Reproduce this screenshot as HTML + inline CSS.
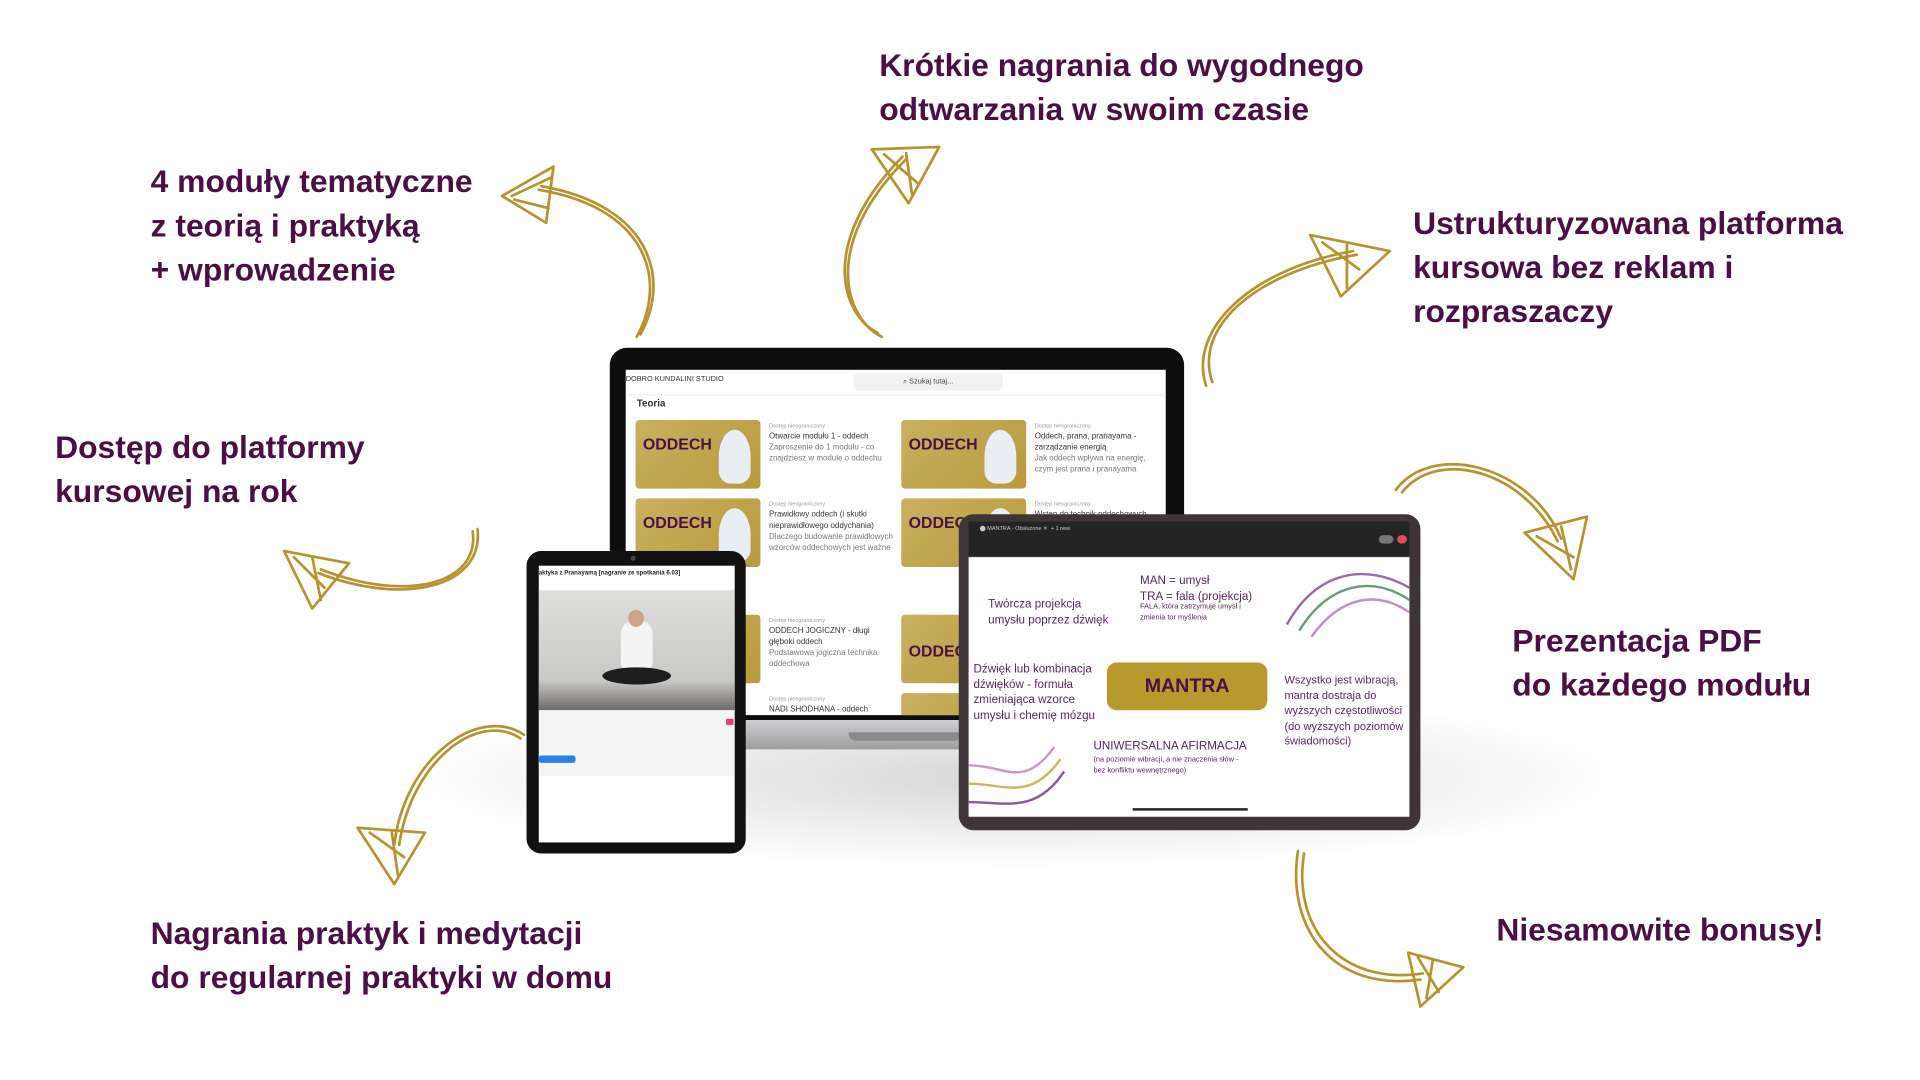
<!DOCTYPE html>
<html><head><meta charset="utf-8">
<style>
html,body{margin:0;padding:0;width:1920px;height:1080px;overflow:hidden;background:#fff;}
#w{position:absolute;left:0;top:0;width:1570px;height:882px;transform:scale(1.2245);transform-origin:0 0;font-family:"Liberation Sans",sans-serif;}
.t{position:absolute;color:#4b0f45;font-weight:bold;font-size:26px;line-height:36px;white-space:nowrap;}
.abs{position:absolute;}
.card{position:absolute;width:102px;height:56px;background:linear-gradient(135deg,#c9b060,#b89a3e);border-radius:3px;overflow:hidden;}
.card b{position:absolute;left:6px;top:12px;font-size:13px;color:#4b0f45;}
.card i{position:absolute;right:8px;top:8px;width:26px;height:44px;background:#e8eef2;border-radius:50% 50% 10px 10px;}
.ct{position:absolute;font-size:6.5px;color:#333;line-height:9px;width:104px;}
.ct s{text-decoration:none;color:#999;font-size:4.5px;display:block;}
.ct em{font-style:normal;color:#777;}
</style></head><body><div id="w">
<div class="abs" style="left:330px;top:560px;width:1000px;height:150px;border-radius:50%;background:radial-gradient(ellipse at center,rgba(0,0,0,0.16),rgba(0,0,0,0) 70%);"></div>

<div class="t" style="left:123px;top:130px;">4 moduły tematyczne<br>z teorią i praktyką<br>+ wprowadzenie</div>
<div class="t" style="left:718px;top:35px;">Krótkie nagrania do wygodnego<br>odtwarzania w swoim czasie</div>
<div class="t" style="left:1154px;top:164px;">Ustrukturyzowana platforma<br>kursowa bez reklam i<br>rozpraszaczy</div>
<div class="t" style="left:45px;top:347px;">Dostęp do platformy<br>kursowej na rok</div>
<div class="t" style="left:1235px;top:505px;">Prezentacja PDF<br>do każdego modułu</div>
<div class="t" style="left:123px;top:744px;">Nagrania praktyk i medytacji<br>do regularnej praktyki w domu</div>
<div class="t" style="left:1222px;top:741px;">Niesamowite bonusy!</div>

<svg class="abs" style="left:0;top:0" width="1560" height="878" fill="none" stroke="#b8922e" stroke-width="2.2" stroke-linecap="round" stroke-linejoin="round">
<path d="M520 275 C545 230 530 170 440 155"/><path d="M523 273 C548 228 532 168 442 152"/>
<path d="M410 160 L452 136 L446 182 Z M418 160 L450 145 M420 163 L448 170"/>
<path d="M720 275 C690 260 670 200 740 130"/><path d="M717 272 C687 257 668 198 737 128"/>
<path d="M712 122 L767 120 L742 166 Z M722 126 L750 150 M740 125 L745 160"/>
<path d="M985 315 C970 270 1020 220 1105 205"/><path d="M990 312 C975 268 1023 223 1108 208"/>
<path d="M1070 192 L1135 205 L1095 242 Z M1080 198 L1110 220 M1100 200 L1100 235"/>
<path d="M390 432 C395 480 330 495 260 468"/><path d="M386 434 C392 478 330 492 262 465"/>
<path d="M232 450 L285 460 L255 497 Z M240 455 L265 480 M255 455 L262 490"/>
<path d="M1140 400 C1170 360 1250 380 1275 440"/><path d="M1145 402 C1175 365 1245 385 1272 442"/>
<path d="M1245 435 L1296 422 L1285 473 Z M1255 438 L1285 455 M1275 430 L1283 465"/>
<path d="M428 600 C390 575 330 620 322 690"/><path d="M425 603 C390 580 336 622 326 690"/>
<path d="M292 676 L347 680 L322 722 Z M302 680 L330 700 M320 680 L325 715"/>
<path d="M1060 695 C1050 760 1090 810 1160 800"/><path d="M1065 697 C1055 758 1095 805 1162 795"/>
<path d="M1150 778 L1195 790 L1160 822 Z M1158 782 L1175 810 M1170 785 L1165 815"/>
</svg>

<!-- laptop -->
<div class="abs" style="left:498px;top:284px;width:469px;height:316px;background:#0d0d0d;border-radius:14px 14px 0 0;"></div>
<div class="abs" style="left:492px;top:588px;width:485px;height:24px;background:linear-gradient(#cfcfd1,#9d9d9f);border-radius:0 0 14px 14px;"></div>
<div class="abs" style="left:693px;top:598px;width:92px;height:7px;background:#8a8a8c;border-radius:0 0 6px 6px;"></div>
<div class="abs" style="left:511px;top:302px;width:441px;height:282px;background:#fff;overflow:hidden;">
 <div class="abs" style="left:0;top:5px;font-size:6px;color:#333;">DOBRO KUNDALINI STUDIO</div>
 <div class="abs" style="left:186px;top:3px;width:122px;height:14px;background:#f1f1f1;border-radius:4px;font-size:6px;color:#444;text-align:center;line-height:14px;">⌕ Szukaj tutaj...</div>
 <div class="abs" style="left:0;top:20px;width:441px;height:1px;background:#eee;"></div>
 <div class="abs" style="left:9px;top:23px;font-size:8px;font-weight:bold;color:#333;">Teoria</div>
 <div class="card" style="left:8px;top:41px;"><b>ODDECH</b><i></i></div>
 <div class="ct" style="left:117px;top:41px;"><s>Dostęp nieograniczony</s>Otwarcie modułu 1 - oddech<br><em>Zaproszenie do 1 modułu - co znajdziesz w module o oddechu</em></div>
 <div class="card" style="left:225px;top:41px;"><b>ODDECH</b><i></i></div>
 <div class="ct" style="left:334px;top:41px;"><s>Dostęp nieograniczony</s>Oddech, prana, pranayama - zarządzanie energią<br><em>Jak oddech wpływa na energię, czym jest prana i pranayama</em></div>
 <div class="card" style="left:8px;top:105px;"><b>ODDECH</b><i></i></div>
 <div class="ct" style="left:117px;top:105px;"><s>Dostęp nieograniczony</s>Prawidłowy oddech (i skutki nieprawidłowego oddychania)<br><em>Dlaczego budowanie prawidłowych wzorców oddechowych jest ważne</em></div>
 <div class="card" style="left:225px;top:105px;"><b>ODDECH</b><i></i></div>
 <div class="ct" style="left:334px;top:105px;"><s>Dostęp nieograniczony</s>Wstęp do technik oddechowych</div>
 <div class="card" style="left:8px;top:200px;"></div>
 <div class="ct" style="left:117px;top:200px;"><s>Dostęp nieograniczony</s>ODDECH JOGICZNY - długi głęboki oddech<br><em>Podstawowa jogiczna technika oddechowa</em></div>
 <div class="card" style="left:225px;top:200px;"><b style="top:22px">ODDEC</b></div>
 <div class="ct" style="left:117px;top:264px;"><s>Dostęp nieograniczony</s>NADI SHODHANA - oddech</div>
 <div class="card" style="left:225px;top:264px;"></div>
</div>

<!-- right tablet -->
<div class="abs" style="left:783px;top:420px;width:377px;height:258px;background:#3d3537;border-radius:12px;"></div>
<div class="abs" style="left:791px;top:426px;width:360px;height:28px;background:#242424;"></div>
<div class="abs" style="left:800px;top:429px;font-size:4.5px;color:#ccc;">⬤ MANTRA - Obsłużone ✕ &nbsp;+ 1 new</div>
<div class="abs" style="left:1126px;top:437px;width:12px;height:7px;background:#777;border-radius:4px;"></div>
<div class="abs" style="left:1141px;top:437px;width:8px;height:7px;background:#e24a5a;border-radius:4px;"></div>
<div class="abs" style="left:791px;top:455px;width:360px;height:212px;background:#fff;overflow:hidden;color:#5b2466;">
 <div class="abs" style="left:16px;top:32px;font-size:9.5px;line-height:13px;">Twórcza projekcja<br>umysłu poprzez dźwięk</div>
 <div class="abs" style="left:140px;top:13px;font-size:9.5px;line-height:13px;">MAN = umysł<br>TRA = fala (projekcja)</div>
 <div class="abs" style="left:140px;top:37px;font-size:6px;line-height:9px;">FALA, która zatrzymuje umysł i<br>zmienia tor myślenia</div>
 <div class="abs" style="left:4px;top:86px;font-size:9.5px;line-height:12.5px;">Dźwięk lub kombinacja<br>dźwięków - formuła<br>zmieniająca wzorce<br>umysłu i chemię mózgu</div>
 <div class="abs" style="left:113px;top:86px;width:131px;height:39px;background:#b8992e;border-radius:8px;font-size:16px;font-weight:bold;color:#4b0f45;text-align:center;line-height:39px;">MANTRA</div>
 <div class="abs" style="left:258px;top:94px;font-size:9px;line-height:12.5px;">Wszystko jest wibracją,<br>mantra dostraja do<br>wyższych częstotliwości<br>(do wyższych poziomów<br>świadomości)</div>
 <div class="abs" style="left:102px;top:149px;font-size:9.5px;">UNIWERSALNA AFIRMACJA</div>
 <div class="abs" style="left:102px;top:162px;font-size:6px;line-height:9px;">(na poziomie wibracji, a nie znaczenia słów -<br>bez konfliktu wewnętrznego)</div>
 <svg class="abs" style="left:255px;top:0" width="105" height="75" fill="none" stroke-width="2"><path d="M5 55 C30 10 70 5 105 25" stroke="#9b6aa8"/><path d="M15 60 C40 20 75 15 105 35" stroke="#6a9c7a"/><path d="M25 65 C50 30 80 28 105 45" stroke="#c08fc4"/></svg>
 <svg class="abs" style="left:0;top:150px" width="80" height="62" fill="none" stroke-width="2"><path d="M0 20 C30 20 45 40 70 5" stroke="#c79ac9"/><path d="M0 35 C30 35 50 50 75 15" stroke="#d2b45a"/><path d="M0 50 C30 50 55 60 78 25" stroke="#8c5a9a"/></svg>
 <div class="abs" style="left:134px;top:205px;width:94px;height:2px;background:#222;"></div>
</div>

<!-- small tablet -->
<div class="abs" style="left:430px;top:450px;width:179px;height:247px;background:#111;border-radius:12px;"></div>
<div class="abs" style="left:440px;top:462px;width:160px;height:226px;background:#fff;overflow:hidden;">
 <div class="abs" style="left:0;top:3px;font-size:5px;font-weight:bold;color:#222;">aktyka z Pranayamą [nagranie ze spotkania 6.03]</div>
 <div class="abs" style="left:0;top:20px;width:160px;height:98px;background:linear-gradient(#dfdfdd,#c9c9c7 75%,#6d6a68);"></div>
 <div class="abs" style="left:67px;top:44px;width:26px;height:40px;background:#f4f4f4;border-radius:12px 12px 4px 4px;"></div>
 <div class="abs" style="left:73px;top:36px;width:13px;height:14px;background:#caa58a;border-radius:50%;"></div>
 <div class="abs" style="left:52px;top:83px;width:56px;height:14px;background:#1e1e1e;border-radius:50%;"></div>
 <div class="abs" style="left:0;top:118px;width:160px;height:54px;background:#f5f5f5;"></div>
 <div class="abs" style="left:0;top:155px;width:30px;height:6px;background:#2b7fe8;border-radius:2px;"></div>
 <div class="abs" style="left:153px;top:125px;width:6px;height:5px;background:#e63a6a;"></div>
</div>
<div class="abs" style="left:515px;top:454px;width:4px;height:4px;background:#444;border-radius:50%;"></div>
</div></body></html>
